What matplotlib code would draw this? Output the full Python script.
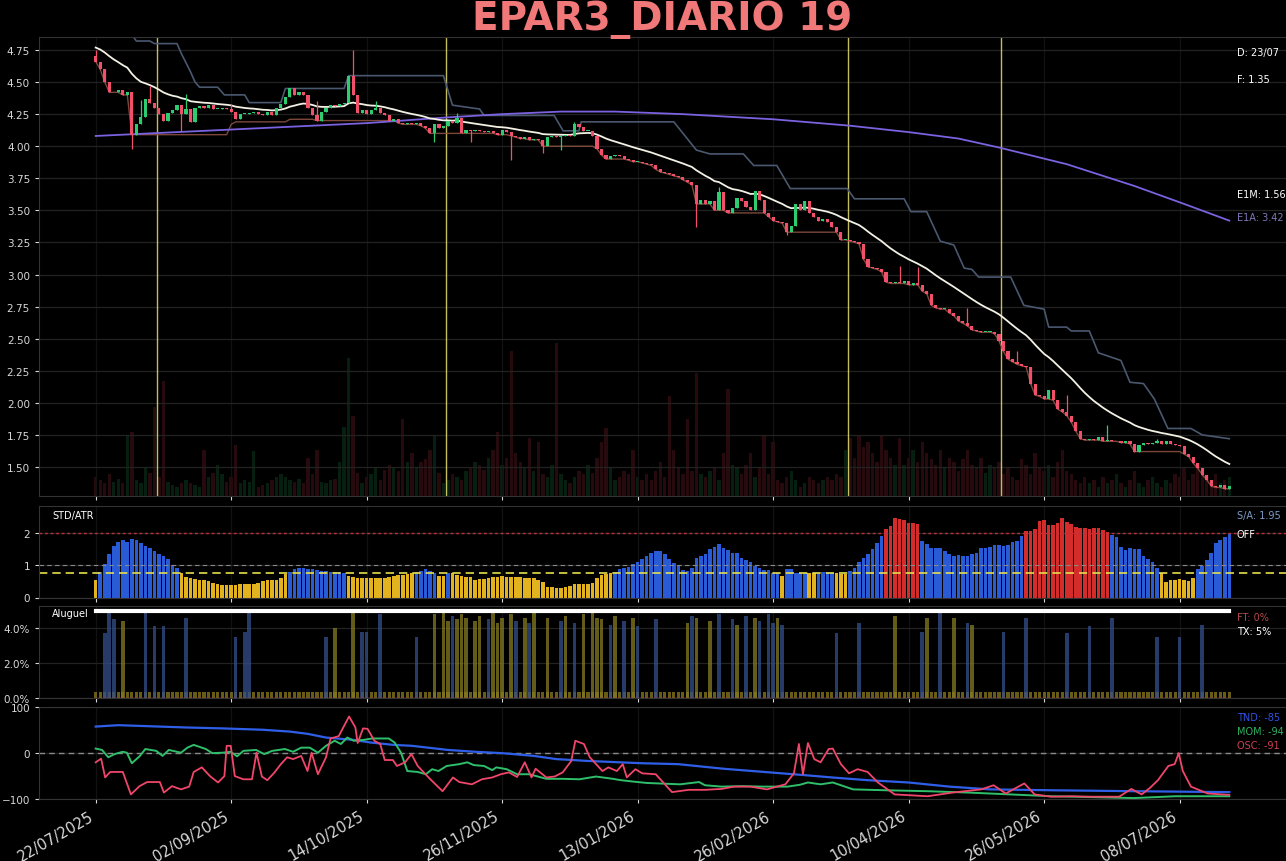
import numpy as np
import pandas as pd
import matplotlib
matplotlib.use("Agg")
import matplotlib.pyplot as plt

# ---------------- data ----------------
title = "EPAR3_DIARIO 19"
tick_bars = [0, 30, 60, 90, 120, 150, 180, 210, 240]
tick_labels = ["22/07/2025", "02/09/2025", "14/10/2025", "26/11/2025", "13/01/2026",
               "26/02/2026", "10/04/2026", "26/05/2026", "08/07/2026"]

first_open = 4.70
closes = [
    4.66, 4.60, 4.50, 4.42, 4.42, 4.44, 4.40, 4.42, 4.09, 4.17,
    4.23, 4.37, 4.34, 4.30, 4.25, 4.20, 4.26, 4.28, 4.32, 4.25,
    4.29, 4.19, 4.30, 4.31, 4.30, 4.32, 4.29, 4.29, 4.30, 4.29,
    4.27, 4.21, 4.25, 4.25, 4.26, 4.27, 4.25, 4.24, 4.27, 4.24,
    4.30, 4.33, 4.38, 4.45, 4.40, 4.42, 4.40, 4.30, 4.24, 4.20,
    4.27, 4.30, 4.32, 4.31, 4.33, 4.34, 4.55, 4.40, 4.26, 4.28,
    4.25, 4.28, 4.30, 4.26, 4.24, 4.20, 4.21, 4.18, 4.17, 4.18,
    4.17, 4.18, 4.16, 4.14, 4.10, 4.17, 4.14, 4.16, 4.20, 4.18,
    4.22, 4.10, 4.13, 4.12, 4.13, 4.12, 4.11, 4.12, 4.10, 4.09,
    4.13, 4.11, 4.08, 4.07, 4.06, 4.07, 4.05, 4.06, 4.05, 4.00,
    4.07, 4.08, 4.07, 4.08, 4.09, 4.08, 4.17, 4.15, 4.12, 4.12,
    4.08, 3.98, 3.93, 3.90, 3.92, 3.93, 3.92, 3.90, 3.89, 3.88,
    3.88, 3.87, 3.86, 3.85, 3.82, 3.80, 3.79, 3.78, 3.77, 3.76,
    3.74, 3.72, 3.70, 3.55, 3.58, 3.55, 3.57, 3.50, 3.64, 3.50,
    3.48, 3.52, 3.60, 3.57, 3.53, 3.50, 3.65, 3.58, 3.48, 3.45,
    3.42, 3.41, 3.40, 3.33, 3.38, 3.55, 3.50, 3.57, 3.48, 3.45,
    3.42, 3.43, 3.41, 3.37, 3.33, 3.27, 3.27, 3.26, 3.25, 3.24,
    3.12, 3.06, 3.05, 3.04, 3.02, 2.94, 2.93, 2.94, 2.93, 2.95,
    2.92, 2.93, 2.92, 2.87, 2.85, 2.76, 2.74, 2.73, 2.73, 2.70,
    2.68, 2.64, 2.62, 2.60, 2.57, 2.56, 2.55, 2.55, 2.55, 2.54,
    2.48, 2.40, 2.34, 2.32, 2.30, 2.29, 2.28, 2.15, 2.06, 2.05,
    2.03, 2.10, 2.02, 1.95, 1.93, 1.90, 1.85, 1.78, 1.72, 1.71,
    1.72, 1.71, 1.73, 1.70, 1.71, 1.70, 1.70, 1.69, 1.70, 1.68,
    1.62, 1.67, 1.69, 1.68, 1.69, 1.70, 1.68, 1.70, 1.68, 1.67,
    1.66, 1.60, 1.58, 1.53, 1.49, 1.44, 1.40, 1.35, 1.34, 1.36,
    1.33, 1.35,
]
spike_highs = {0: 4.75, 10: 4.36, 12: 4.47, 20: 4.41, 30: 4.33, 49: 4.35, 57: 4.75, 62: 4.35,
               80: 4.26, 106: 4.19, 138: 3.68, 178: 3.07, 182: 3.06, 193: 2.74, 204: 2.40,
               215: 2.06, 224: 1.83, 235: 1.72}
spike_lows = {8: 3.98, 19: 4.12, 75: 4.03, 83: 4.03, 92: 3.89, 99: 3.95, 103: 3.97,
              113: 3.90, 133: 3.37, 153: 3.31}

volumes = [
    12, 10, 8, 14, 9, 11, 8, 40, 42, 10, 8, 18, 15, 58, 12, 75, 9, 7, 6, 8,
    10, 8, 7, 6, 30, 12, 15, 20, 14, 9, 12, 33, 8, 10, 9, 29, 6, 7, 8, 10,
    12, 14, 12, 10, 9, 11, 8, 25, 14, 30, 9, 8, 10, 11, 22, 45, 90, 52, 15, 8,
    12, 14, 18, 10, 17, 20, 19, 16, 50, 22, 28, 18, 22, 24, 30, 40, 15, 8, 10, 14,
    12, 10, 16, 18, 22, 20, 17, 25, 30, 42, 20, 25, 95, 28, 22, 18, 38, 16, 35, 14,
    12, 20, 100, 14, 10, 8, 12, 16, 14, 20, 15, 25, 35, 44, 18, 10, 12, 16, 14, 30,
    12, 10, 14, 10, 16, 22, 12, 65, 30, 18, 14, 50, 16, 80, 14, 12, 16, 18, 10, 28,
    70, 20, 18, 14, 20, 28, 12, 18, 40, 14, 35, 10, 8, 12, 16, 10, 6, 8, 12, 10,
    8, 10, 12, 10, 14, 12, 30, 38, 25, 40, 32, 35, 28, 22, 40, 30, 25, 20, 38, 20,
    25, 30, 22, 35, 28, 24, 20, 30, 18, 25, 22, 16, 24, 30, 20, 18, 25, 15, 20, 18,
    22, 14, 18, 12, 10, 24, 20, 14, 28, 18, 16, 20, 12, 22, 30, 16, 14, 10, 8, 12,
    8, 10, 6, 12, 8, 10, 14, 8, 6, 10, 16, 8, 6, 10, 12, 8, 6, 10, 8, 14,
    12, 18, 10, 14, 20, 16, 12, 10, 14, 8, 10, 12,
]

ema_month_seed = 4.78
ema_month_span = 21
channel_window = 21

upper_x = [0, 8, 9, 12, 13, 18, 19, 20, 21, 22, 23, 27, 28.5, 33, 34, 41, 42, 55, 56, 77,
           79, 85, 86, 101.5, 103.5, 107, 107.5, 128, 133, 136, 143.4, 145.7, 150.8, 153.8,
           166.4, 168, 179, 180.5, 184, 187, 190, 192.3, 194, 195.5, 202.6, 205.5, 210, 211,
           215, 216, 220, 222, 227, 229, 232, 234.4, 237.4, 242.5, 244, 245, 251]
upper_y = [4.87, 4.87, 4.82, 4.82, 4.80, 4.80, 4.72, 4.65, 4.58, 4.50, 4.46, 4.46, 4.40, 4.40,
           4.34, 4.34, 4.45, 4.45, 4.55, 4.55, 4.32, 4.29, 4.24, 4.24, 4.12, 4.12, 4.19, 4.19,
           3.97, 3.94, 3.94, 3.85, 3.85, 3.67, 3.67, 3.59, 3.59, 3.49, 3.49, 3.26, 3.23, 3.05,
           3.04, 2.98, 2.98, 2.76, 2.73, 2.59, 2.59, 2.56, 2.56, 2.39, 2.33, 2.16, 2.15, 2.03,
           1.80, 1.80, 1.77, 1.75, 1.72]

e1a_x = [0, 30, 60, 78, 90, 103, 115, 130, 150, 167, 180, 191, 200, 215, 230, 241, 251]
e1a_y = [4.08, 4.13, 4.18, 4.225, 4.25, 4.27, 4.27, 4.25, 4.21, 4.16, 4.11, 4.06, 3.99,
         3.86, 3.69, 3.55, 3.42]

event_bars = [13.5, 77.5, 166.5, 200.5]

std_atr = [
    0.53, 0.78, 1.03, 1.35, 1.58, 1.72, 1.78, 1.72, 1.80, 1.76, 1.68, 1.58, 1.52, 1.44, 1.33,
    1.28, 1.18, 1.00, 0.92,
    0.74, 0.62, 0.60, 0.57, 0.55, 0.53, 0.50, 0.45, 0.41, 0.38, 0.39, 0.40, 0.40, 0.41, 0.41,
    0.42, 0.43, 0.45, 0.50, 0.55, 0.53, 0.53, 0.60,
    0.72, 0.80, 0.88, 0.92, 0.91, 0.89, 0.87, 0.85, 0.83, 0.81, 0.79, 0.78, 0.79, 0.77,
    0.66, 0.62, 0.60, 0.60, 0.60, 0.60, 0.60, 0.60, 0.60, 0.62, 0.66, 0.68, 0.70, 0.72, 0.74,
    0.80, 0.82, 0.87, 0.82, 0.77,
    0.66, 0.66, 0.77,
    0.74, 0.70, 0.67, 0.64, 0.62, 0.53, 0.56, 0.57, 0.60, 0.62,
    0.64, 0.66, 0.62, 0.62, 0.62, 0.62, 0.60, 0.60, 0.60, 0.53,
    0.47, 0.33, 0.31, 0.29, 0.29, 0.31, 0.35, 0.43, 0.43, 0.43,
    0.41, 0.45, 0.60, 0.70, 0.72, 0.74,
    0.78, 0.87, 0.92, 0.94, 1.03, 1.10, 1.18, 1.28, 1.38, 1.42,
    1.42, 1.35, 1.18, 1.05, 1.00, 0.86, 0.82, 0.92, 1.21, 1.28,
    1.35, 1.49, 1.56, 1.64, 1.54, 1.46, 1.37, 1.37, 1.23, 1.15,
    1.08, 0.97, 0.90, 0.86, 0.84, 0.77, 0.76, 0.67, 0.87, 0.87,
    0.77, 0.77, 0.77, 0.74, 0.74, 0.77, 0.79, 0.80, 0.77, 0.74,
    0.72, 0.72, 0.82, 0.90, 1.08, 1.23, 1.35, 1.49, 1.67, 1.90,
    2.10, 2.20, 2.46, 2.41, 2.38, 2.31, 2.31, 2.28, 1.74, 1.64,
    1.54, 1.52, 1.52, 1.44, 1.33, 1.28, 1.31, 1.28, 1.28, 1.33,
    1.38, 1.54, 1.52, 1.56, 1.62, 1.62, 1.60, 1.62, 1.72, 1.74,
    1.90, 2.05, 2.05, 2.10, 2.36, 2.38, 2.23, 2.23, 2.31, 2.44,
    2.34, 2.26, 2.17, 2.13, 2.13, 2.10, 2.15, 2.13, 2.07, 2.02,
    1.93, 1.85, 1.56, 1.46, 1.54, 1.49, 1.49, 1.28, 1.18, 1.08,
    0.90, 0.74, 0.49, 0.53, 0.55, 0.57, 0.55, 0.51, 0.60, 0.87,
    0.97, 1.15, 1.38, 1.69, 1.78, 1.86, 1.95,
]
std_red_level = 2.0
std_mid_level = 1.0
std_low_level = 0.75

aluguel_base = 0.35
aluguel_tx = 5.0
aluguel_ft = 0.0
rent_bars = [2, 3, 4, 6, 11, 13, 15, 20, 31, 33, 34, 51, 53, 57, 59, 60, 63, 71,
             75, 77, 78, 79, 80, 81, 82, 84, 85, 87, 88, 89, 90, 92, 93, 95, 96, 97,
             100, 103, 104, 106, 108, 110, 111, 112, 114, 115, 117, 119, 120,
             124, 131, 132, 133, 136, 138, 141, 142, 144, 146, 147, 149, 150, 151, 152,
             164, 169, 177, 183, 184, 187, 190, 193, 194, 201, 206, 215, 220, 225, 235, 240, 245]
rent_vals = [3.7, 5.0, 4.5, 4.4, 5.0, 4.1, 4.1, 4.6, 3.5, 3.8, 4.9, 3.5, 4.0, 5.0, 3.8, 3.8, 4.8, 3.5,
             4.8, 4.9, 4.4, 4.7, 4.5, 4.8, 4.6, 4.4, 4.7, 4.5, 4.9, 4.3, 4.6, 4.8, 4.4, 4.6, 4.3, 4.9,
             4.6, 4.4, 4.7, 4.3, 4.8, 5.0, 4.6, 4.5, 4.2, 4.7, 4.4, 4.6, 4.1,
             4.5, 4.3, 4.7, 4.6, 4.4, 4.8, 4.5, 4.2, 4.7, 4.6, 4.4, 4.8, 4.3, 4.6, 4.2,
             3.7, 4.3, 4.7, 3.8, 4.6, 4.9, 4.6, 4.3, 4.2, 3.8, 4.6, 3.7, 4.1, 4.6, 3.5, 3.5, 4.2]
rent_kind = ["b", "b", "b", "y", "b", "b", "b", "b", "b", "b", "b", "b", "y", "y", "b", "b", "b", "b",
             "y", "y", "y", "b", "y", "y", "y", "y", "y", "b", "y", "y", "y", "y", "b", "y", "b", "y",
             "y", "b", "y", "b", "y", "y", "y", "y", "b", "y", "b", "y", "b",
             "b", "y", "b", "y", "y", "b", "b", "y", "b", "y", "b", "b", "b", "y", "b",
             "b", "b", "y", "b", "y", "b", "y", "b", "y", "b", "b", "b", "b", "b", "b", "b", "b"]

tnd_x = [0, 5, 11, 20, 28, 37, 43, 47, 51, 57, 61, 66, 70, 78, 84, 90, 97, 102, 109, 116, 121,
         129, 139, 148, 157, 163, 171, 180, 189, 198, 212, 230, 251]
tnd_y = [58, 61, 59, 56, 54, 51, 47, 42, 34, 29, 23, 18, 16, 7, 3, 0, -6, -13, -17, -20, -22,
         -24, -34, -41, -48, -53, -59, -64, -73, -79, -81, -83, -85]

mom_x = [0, 1.4, 2.8, 4.2, 6, 6.9, 8, 9.7, 11, 13.4, 14.8, 16.2, 18.9, 20.3, 21.7, 23.5, 24.4,
         25.8, 28.1, 29.9, 31.3, 32.7, 35.5, 37.3, 39.1, 41.9, 43.7, 45.5, 47.4, 49.2, 51, 52.9,
         54.3, 55.7, 57.1, 59.4, 61.2, 63, 64.9, 66.2, 67.6, 69, 71.3, 73.1, 74.5, 75.9, 77.7,
         80.5, 82.3, 83.7, 86, 87.8, 88.7, 91, 93.3, 96, 99.8, 103.4, 107.1, 110.8, 114.5,
         116.3, 119, 122, 129.4, 133.6, 134.9, 138.6, 143.1, 147.7, 153.2, 155.9, 157.7,
         160.5, 163.2, 167.7, 175.1, 184.2, 193.3, 202.5, 211.6, 220.7, 229.9, 239, 251]
mom_y = [10, 7, -9, -2, 3, 1, -22, -7, 9, 5, -6, 7, 1, 12, 18, 12, 9,
         0, 1, 3, -7, 5, 7, -2, 5, 9, 3, 12, 12, 1, 16, 27,
         20, 34, 27, 29, 32, 32, 32, 23, 1, -39, -41, -46, -35, -39, -28,
         -24, -20, -26, -28, -37, -31, -35, -46, -46, -56, -56, -57, -51, -56,
         -59, -62, -65, -68, -63, -70, -73, -72, -73, -73, -69, -64,
         -68, -64, -79, -81, -83, -86, -90, -94, -96, -98, -94, -94]

osc_x = [0, 1.2, 2.1, 3.2, 6, 7.8, 9.7, 11.4, 14.2, 15.1, 16.9, 18.9, 20.7, 21.7, 23.5, 25.3,
         27.1, 28.5, 29, 29.9, 30.8, 32.7, 34.6, 35.6, 36.8, 38, 39.6, 41, 42.4, 43.7, 45.5,
         46.9, 47.8, 49.2, 51, 52, 53.8, 56.1, 57.5, 58, 59.2, 60.2, 61.7, 63, 64, 65.8, 66.7,
         68.5, 69.9, 71.3, 74.1, 76.8, 79.1, 80.5, 83.3, 85.5, 87.8, 89.7, 91.5, 93.3, 95,
         96.5, 97.4, 99.8, 101.6, 103.4, 105.3, 106.2, 108.1, 109.4, 110.8, 112.2, 113.5,
         115.4, 116.7, 117.6, 119.5, 121, 124, 127.6, 131.3, 134.9, 138.6, 141.3, 145,
         148.6, 152.7, 154.6, 155.7, 156.6, 157.7, 159.1, 160.5, 162.3, 163.2, 165, 166.8,
         168.7, 170.9, 173.2, 176.9, 184.2, 189.7, 196.1, 198.8, 201.5, 205.6, 207.9, 211.6,
         216.1, 220.7, 226.6, 229.3, 231.6, 233.4, 235.2, 237.5, 238.9, 239.8, 240.7, 242.5,
         246.2, 251]
osc_y = [-20, -12, -53, -41, -41, -90, -72, -63, -63, -86, -72, -79, -73, -41, -31, -50,
         -64, -50, 16, 16, -50, -57, -57, 1, -51, -59, -42, -24, -9, -13, -6,
         -39, 1, -46, -9, 32, 37, 80, 56, 22, 54, 53, 27, 20, -15, -15, -28,
         -20, -2, -28, -57, -83, -53, -63, -68, -57, -53, -46, -42, -52, -20,
         -53, -34, -53, -51, -42, -17, 27, 20, -9, -24, -39, -31,
         -39, -24, -53, -35, -44, -46, -85, -80, -80, -78, -73, -73,
         -79, -68, -44, 20, -46, 22, -13, -20, 9, 10, -24, -44,
         -35, -41, -64, -90, -94, -86, -79, -70, -88, -66, -90, -95,
         -94, -95, -95, -78, -90, -76, -59, -28, -24, 0, -39, -73,
         -88, -91]

last_date = "23/07"
last_close_label = "1.35"
e1m_label = "1.56"
e1a_label = "3.42"
sa_label = "1.95"
tnd_label, mom_label, osc_label = "-85", "-94", "-91"

# ---------------- derived ----------------
n = len(closes)
x = np.arange(n)
c = np.array(closes)
o = np.array([first_open] + closes[:-1])
hi = np.maximum(o, c)
lo = np.minimum(o, c)
for k, v in spike_highs.items():
    hi[k] = max(hi[k], v)
for k, v in spike_lows.items():
    lo[k] = min(lo[k], v)
up = c >= o

alpha_m = 2.0 / (ema_month_span + 1)
ema_m = []
e = ema_month_seed
for val in closes:
    e = e + alpha_m * (val - e)
    ema_m.append(e)
lower = pd.Series(np.minimum(o, c)).rolling(channel_window, min_periods=1).min().values

GREEN = "#2ecc71"
RED = "#f0506a"
BG = "#000000"
GRID = "#222222"
TXT = "#d8d8d8"

plt.rcParams["font.family"] = ["DejaVu Sans"]
fig = plt.figure(figsize=(12.86, 8.62), dpi=100, facecolor=BG)

L, W = 39 / 1286, 1247 / 1286
def mk(top, bot):
    return fig.add_axes([L, 1 - bot / 862, W, (bot - top) / 862])

ax = mk(38.3, 496.7)
ax2 = mk(506.7, 598.5)
ax3 = mk(607.3, 699.3)
ax4 = mk(708.3, 800.0)

for a in (ax, ax2, ax3, ax4):
    a.set_facecolor(BG)
    for s in a.spines.values():
        s.set_color("#333333")
    a.tick_params(colors=TXT, labelsize=7.5, length=3, width=0.8)
    a.set_xlim(-12.55, n - 1 + 12.55)
    a.set_xticks(tick_bars)
    a.grid(True, axis="y", color=GRID, lw=0.9)
    a.grid(True, axis="x", color="#121212", lw=0.9)
    a.set_axisbelow(True)
for a in (ax, ax2, ax3):
    a.set_xticklabels([])
ax4.set_xticklabels(tick_labels, rotation=30, ha="right", fontsize=10.5, color=TXT)

# ---- main panel ----
axv = ax.twinx()
axv.bar(x, volumes, width=0.75, color=np.where(up, "#17703c", "#8a2535"), alpha=0.28, lw=0)
axv.set_ylim(0, 300)
axv.axis("off")
ax.set_zorder(axv.get_zorder() + 1)
ax.patch.set_visible(False)
fig.patch.set_facecolor(BG)

ax.set_ylim(1.276, 4.849)
ax.set_yticks(np.arange(1.5, 4.8, 0.25))
ax.set_yticklabels([f"{v:.2f}" for v in np.arange(1.5, 4.8, 0.25)])
for b in event_bars:
    ax.axvline(b, color="#e8e070", lw=1.0, alpha=0.85, zorder=1)
ax.plot(upper_x, upper_y, color="#4a5870", lw=1.2, zorder=2)
ax.plot(x, lower, color="#8a5040", lw=1.0, alpha=0.9, zorder=2)
ax.plot(e1a_x, e1a_y, color="#7b62e0", lw=1.3, zorder=2)
ax.plot(x, ema_m, color="#f3f1e4", lw=1.3, zorder=3)
cols = np.where(up, GREEN, RED)
ax.vlines(x, lo, hi, colors=cols, lw=0.9, zorder=4)
body_h = np.maximum(np.abs(c - o), 0.006)
ax.bar(x, body_h, bottom=np.minimum(o, c), width=0.7, color=cols, lw=0, zorder=5)

rx = 0.9607
ax.text(rx, 0.968, f"D: {last_date}", transform=ax.transAxes, color="white", fontsize=7, va="center")
ax.text(rx, 0.9096, f"F: {last_close_label}", transform=ax.transAxes, color="white", fontsize=7, va="center")
ax.text(rx, 0.6577, f"E1M: {e1m_label}", transform=ax.transAxes, color="white", fontsize=7, va="center")
ax.text(rx, 0.6075, f"E1A: {e1a_label}", transform=ax.transAxes, color="#8078b8", fontsize=7, va="center")

# ---- STD/ATR panel ----
sa = np.array(std_atr)
scol = np.where(sa > std_red_level, "#d42b2b", np.where(sa >= std_low_level, "#2a5bd6", "#e2b21f"))
ax2.bar(x, sa, width=0.8, color=scol, lw=0)
ax2.axhline(std_red_level, color="#c0303a", ls=(0, (2, 2)), lw=1.0)
ax2.axhline(std_mid_level, color="#8a8a8a", ls=(0, (4, 3)), lw=0.8)
ax2.axhline(std_low_level, color="#e6e04a", ls=(0, (5, 3)), lw=1.2)
ax2.set_ylim(0, 2.83)
ax2.set_yticks([0, 1, 2])
ax2.text(0.0104, 0.899, "STD/ATR", transform=ax2.transAxes, color="white", fontsize=7, va="center")
ax2.text(rx, 0.899, f"S/A: {sa_label}", transform=ax2.transAxes, color="#7f9cc8", fontsize=7, va="center")
ax2.text(rx, 0.692, "OFF", transform=ax2.transAxes, color="white", fontsize=7, va="center")

# ---- Aluguel panel ----
ax3.bar(x, [aluguel_base] * n, width=0.7, color="#7a6c1a", alpha=0.85, lw=0)
rk = np.array(rent_kind)
ax3.bar(rent_bars, rent_vals, width=0.8,
        color=np.where(rk == "b", "#34508a", "#857c22"), alpha=0.75, lw=0)
ax3.plot([0, n - 1], [aluguel_tx, aluguel_tx], color="white", lw=3)
ax3.plot([0, n - 1], [aluguel_ft, aluguel_ft], color="#c04858", lw=1)
ax3.set_ylim(0, 5.25)
ax3.set_yticks([0, 2, 4])
ax3.set_yticklabels(["0.0%", "2.0%", "4.0%"])
ax3.text(0.0104, 0.929, "Aluguel", transform=ax3.transAxes, color="white", fontsize=7, va="center")
ax3.text(rx, 0.8848, f"FT: {aluguel_ft:.0f}%", transform=ax3.transAxes, color="#b04a4a", fontsize=7, va="center")
ax3.text(rx, 0.7326, f"TX: {aluguel_tx:.0f}%", transform=ax3.transAxes, color="white", fontsize=7, va="center")

# ---- TND / MOM / OSC panel ----
ax4.axhline(0, color="#8a8a8a", ls=(0, (4, 3)), lw=1.0)
ax4.plot(tnd_x, tnd_y, color="#2f5fe8", lw=1.6)
ax4.plot(mom_x, mom_y, color="#2fbf6a", lw=1.4)
ax4.plot(osc_x, osc_y, color="#f0466a", lw=1.3)
ax4.set_ylim(-100, 100)
ax4.set_yticks([-100, 0, 100])
ax4.text(rx, 0.894, f"TND: {tnd_label}", transform=ax4.transAxes, color="#3050e0", fontsize=7, va="center")
ax4.text(rx, 0.741, f"MOM: {mom_label}", transform=ax4.transAxes, color="#30b060", fontsize=7, va="center")
ax4.text(rx, 0.589, f"OSC: {osc_label}", transform=ax4.transAxes, color="#d04050", fontsize=7, va="center")

fig.text((39 + 1247 / 2) / 1286, 1 - 20 / 862, title, ha="center", va="center", fontsize=28,
         fontweight="bold", color="#f07878")

fig.savefig("out.png", dpi=100, facecolor=BG)
